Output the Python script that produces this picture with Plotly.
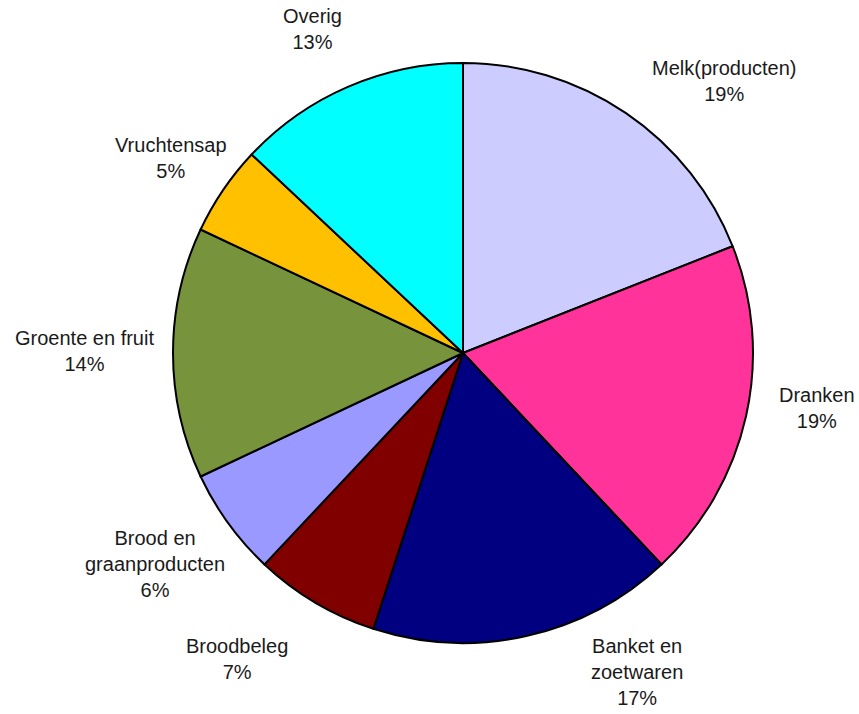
import plotly.graph_objects as go

# Share of intake per food group (percent)
categories = ["Melk(producten)", "Dranken", "Banket en<br>zoetwaren", "Broodbeleg",
              "Brood en<br>graanproducten", "Groente en fruit", "Vruchtensap", "Overig"]
values = [19, 19, 17, 7, 6, 14, 5, 13]
colors = ["#CCCCFF", "#FF3399", "#000080", "#800000",
          "#9999FF", "#77933C", "#FFC000", "#00FFFF"]

# Label anchor points (pixels in the 859x714 canvas)
label_px = [(724, 81), (817, 408), (637, 672), (237, 659),
            (155, 564), (84, 351), (171, 158), (312, 29)]

W, H = 859, 714
cx, cy, r = 463, 353, 290

fig = go.Figure(go.Pie(
    labels=categories,
    values=values,
    sort=False,
    direction="clockwise",
    rotation=0,
    marker=dict(colors=colors, line=dict(color="black", width=2)),
    textinfo="none",
    hoverinfo="label+percent",
    showlegend=False,
    domain=dict(x=[(cx - r) / W, (cx + r) / W], y=[1 - (cy + r) / H, 1 - (cy - r) / H]),
))

total = sum(values)
for name, v, (px, py) in zip(categories, values, label_px):
    fig.add_annotation(
        x=px / W, y=1 - py / H, xref="paper", yref="paper",
        text=f"{name}<br>{round(100 * v / total)}%",
        showarrow=False, xanchor="center", yanchor="middle", align="center",
        font=dict(family="Liberation Sans, Arial, sans-serif", size=20, color="#1a1a1a"),
    )

fig.update_layout(
    width=W, height=H,
    margin=dict(l=0, r=0, t=0, b=0),
    paper_bgcolor="white", plot_bgcolor="white",
)

fig.write_html("out.html")
